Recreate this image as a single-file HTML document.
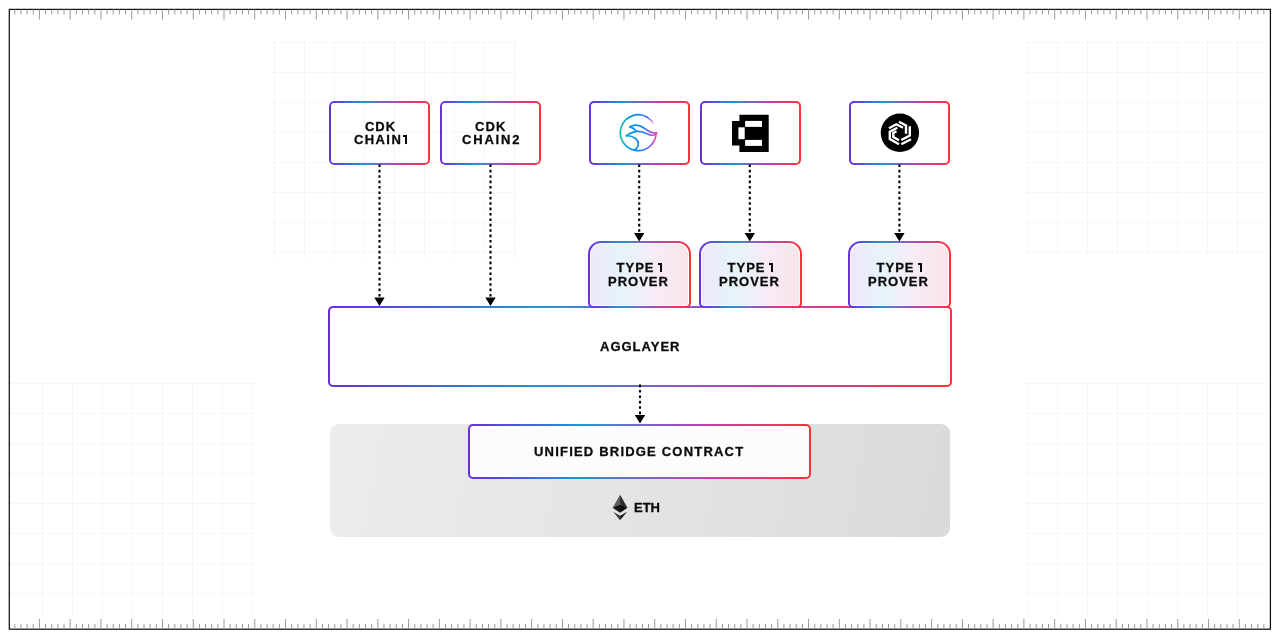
<!DOCTYPE html>
<html><head><meta charset="utf-8"><style>
*{box-sizing:border-box;margin:0;padding:0}
html,body{width:1280px;height:639px;overflow:hidden;background:#fff}
body{position:relative;font-family:"Liberation Sans",sans-serif;font-weight:700;color:#0a0a0a;-webkit-font-smoothing:antialiased}
.t{will-change:transform;-webkit-text-stroke:0.3px #0a0a0a}
.gb{position:absolute;border:2px solid transparent;border-radius:5px;
background:linear-gradient(#fff,#fff) padding-box,linear-gradient(90deg,#6a2ce0 0%,#2196d0 33%,#8a5cc8 55%,#c040a8 71%,#e03c70 85%,#ff3038 100%) border-box;
display:flex;align-items:center;justify-content:center;text-align:center;font-size:13px;line-height:13px;letter-spacing:1px}
.pv{border-radius:13px 13px 5px 5px;background:linear-gradient(#fff,#fff) padding-box,linear-gradient(90deg,#6a2ce0 0%,#2196d0 33%,#8a5cc8 55%,#c040a8 71%,#e03c70 85%,#ff3038 100%) border-box}
.pv::before{content:"";position:absolute;inset:1px;border-radius:10px 10px 2px 2px;background:linear-gradient(90deg,rgba(106,44,224,.11) 0%,rgba(33,150,208,.11) 33%,rgba(192,64,168,.11) 70%,rgba(200,40,70,.12) 100%)}
.pv span{position:relative;line-height:14px;left:-1px}
.one{display:inline-block;width:4.2px;height:9.3px;position:relative;margin-left:0.6px;font-size:0;color:transparent;-webkit-text-stroke:0;vertical-align:baseline;font-style:normal}
.one::before{content:"";position:absolute;right:0;top:0;width:2.2px;height:100%;background:#0a0a0a}
.one::after{content:"";position:absolute;left:0;top:0;width:3px;height:2.1px;background:#0a0a0a}
.w{word-spacing:-1.5px;position:relative;left:1px}
svg{position:absolute;left:0;top:0}
.tb{background:none!important;border-color:transparent}
.tb::after{content:"";position:absolute;inset:-2px;border-radius:5px;padding:2px;background:linear-gradient(90deg,#6a2ce0 0%,#2196d0 33%,#8a5cc8 55%,#c040a8 71%,#e03c70 85%,#ff3038 100%);
-webkit-mask:linear-gradient(#000 0 0) content-box,linear-gradient(#000 0 0);-webkit-mask-composite:xor;mask-composite:exclude}
</style></head><body>
<svg width="1280" height="639" style="z-index:0">
<path d="M274.5 40V258 M304.5 40V258 M334.5 40V258 M364.5 40V258 M394.5 40V258 M424.5 40V258 M454.5 40V258 M484.5 40V258 M514.5 40V258 M272 42.5H517 M272 72.5H517 M272 102.5H517 M272 132.5H517 M272 162.5H517 M272 192.5H517 M272 222.5H517 M272 252.5H517 M1027.5 40V255 M1057.5 40V255 M1087.5 40V255 M1117.5 40V255 M1147.5 40V255 M1177.5 40V255 M1207.5 40V255 M1237.5 40V255 M1025 42.5H1268 M1025 72.5H1268 M1025 102.5H1268 M1025 132.5H1268 M1025 162.5H1268 M1025 192.5H1268 M1025 222.5H1268 M1025 252.5H1268 M42.5 381V617 M72.5 381V617 M102.5 381V617 M132.5 381V617 M162.5 381V617 M192.5 381V617 M222.5 381V617 M252.5 381V617 M10 383.5H256 M10 413.5H256 M10 443.5H256 M10 473.5H256 M10 503.5H256 M10 533.5H256 M10 563.5H256 M10 593.5H256 M1027.5 382V617 M1057.5 382V617 M1087.5 382V617 M1117.5 382V617 M1147.5 382V617 M1177.5 382V617 M1207.5 382V617 M1237.5 382V617 M1025 383.5H1268 M1025 413.5H1268 M1025 443.5H1268 M1025 473.5H1268 M1025 503.5H1268 M1025 533.5H1268 M1025 563.5H1268 M1025 593.5H1268" stroke="#f6f6f8" stroke-width="1" fill="none"/>
<rect x="9.3" y="9.4" width="1261.1" height="619.8" fill="none" stroke="#111" stroke-width="1.25"/>
<path d="M14.80 9.5v5 M20.96 9.5v5 M27.11 9.5v5 M33.26 9.5v5 M39.41 9.5v10 M45.57 9.5v5 M51.72 9.5v5 M57.87 9.5v5 M64.03 9.5v5 M70.18 9.5v10 M76.33 9.5v5 M82.49 9.5v5 M88.64 9.5v5 M94.79 9.5v5 M100.94 9.5v10 M107.10 9.5v5 M113.25 9.5v5 M119.40 9.5v5 M125.56 9.5v5 M131.71 9.5v10 M137.86 9.5v5 M144.02 9.5v5 M150.17 9.5v5 M156.32 9.5v5 M162.47 9.5v10 M168.63 9.5v5 M174.78 9.5v5 M180.93 9.5v5 M187.09 9.5v5 M193.24 9.5v10 M199.39 9.5v5 M205.55 9.5v5 M211.70 9.5v5 M217.85 9.5v5 M224.00 9.5v10 M230.16 9.5v5 M236.31 9.5v5 M242.46 9.5v5 M248.62 9.5v5 M254.77 9.5v10 M260.92 9.5v5 M267.08 9.5v5 M273.23 9.5v5 M279.38 9.5v5 M285.53 9.5v10 M291.69 9.5v5 M297.84 9.5v5 M303.99 9.5v5 M310.15 9.5v5 M316.30 9.5v10 M322.45 9.5v5 M328.61 9.5v5 M334.76 9.5v5 M340.91 9.5v5 M347.06 9.5v10 M353.22 9.5v5 M359.37 9.5v5 M365.52 9.5v5 M371.68 9.5v5 M377.83 9.5v10 M383.98 9.5v5 M390.14 9.5v5 M396.29 9.5v5 M402.44 9.5v5 M408.59 9.5v10 M414.75 9.5v5 M420.90 9.5v5 M427.05 9.5v5 M433.21 9.5v5 M439.36 9.5v10 M445.51 9.5v5 M451.67 9.5v5 M457.82 9.5v5 M463.97 9.5v5 M470.12 9.5v10 M476.28 9.5v5 M482.43 9.5v5 M488.58 9.5v5 M494.74 9.5v5 M500.89 9.5v10 M507.04 9.5v5 M513.20 9.5v5 M519.35 9.5v5 M525.50 9.5v5 M531.65 9.5v10 M537.81 9.5v5 M543.96 9.5v5 M550.11 9.5v5 M556.27 9.5v5 M562.42 9.5v10 M568.57 9.5v5 M574.73 9.5v5 M580.88 9.5v5 M587.03 9.5v5 M593.18 9.5v10 M599.34 9.5v5 M605.49 9.5v5 M611.64 9.5v5 M617.80 9.5v5 M623.95 9.5v10 M630.10 9.5v5 M636.26 9.5v5 M642.41 9.5v5 M648.56 9.5v5 M654.71 9.5v10 M660.87 9.5v5 M667.02 9.5v5 M673.17 9.5v5 M679.33 9.5v5 M685.48 9.5v10 M691.63 9.5v5 M697.79 9.5v5 M703.94 9.5v5 M710.09 9.5v5 M716.24 9.5v10 M722.40 9.5v5 M728.55 9.5v5 M734.70 9.5v5 M740.86 9.5v5 M747.01 9.5v10 M753.16 9.5v5 M759.32 9.5v5 M765.47 9.5v5 M771.62 9.5v5 M777.77 9.5v10 M783.93 9.5v5 M790.08 9.5v5 M796.23 9.5v5 M802.39 9.5v5 M808.54 9.5v10 M814.69 9.5v5 M820.85 9.5v5 M827.00 9.5v5 M833.15 9.5v5 M839.30 9.5v10 M845.46 9.5v5 M851.61 9.5v5 M857.76 9.5v5 M863.92 9.5v5 M870.07 9.5v10 M876.22 9.5v5 M882.38 9.5v5 M888.53 9.5v5 M894.68 9.5v5 M900.83 9.5v10 M906.99 9.5v5 M913.14 9.5v5 M919.29 9.5v5 M925.45 9.5v5 M931.60 9.5v10 M937.75 9.5v5 M943.91 9.5v5 M950.06 9.5v5 M956.21 9.5v5 M962.36 9.5v10 M968.52 9.5v5 M974.67 9.5v5 M980.82 9.5v5 M986.98 9.5v5 M993.13 9.5v10 M999.28 9.5v5 M1005.44 9.5v5 M1011.59 9.5v5 M1017.74 9.5v5 M1023.89 9.5v10 M1030.05 9.5v5 M1036.20 9.5v5 M1042.35 9.5v5 M1048.51 9.5v5 M1054.66 9.5v10 M1060.81 9.5v5 M1066.97 9.5v5 M1073.12 9.5v5 M1079.27 9.5v5 M1085.42 9.5v10 M1091.58 9.5v5 M1097.73 9.5v5 M1103.88 9.5v5 M1110.04 9.5v5 M1116.19 9.5v10 M1122.34 9.5v5 M1128.50 9.5v5 M1134.65 9.5v5 M1140.80 9.5v5 M1146.95 9.5v10 M1153.11 9.5v5 M1159.26 9.5v5 M1165.41 9.5v5 M1171.57 9.5v5 M1177.72 9.5v10 M1183.87 9.5v5 M1190.03 9.5v5 M1196.18 9.5v5 M1202.33 9.5v5 M1208.48 9.5v10 M1214.64 9.5v5 M1220.79 9.5v5 M1226.94 9.5v5 M1233.10 9.5v5 M1239.25 9.5v10 M1245.40 9.5v5 M1251.56 9.5v5 M1257.71 9.5v5 M1263.86 9.5v5 M14.80 629v-5 M20.96 629v-5 M27.11 629v-5 M33.26 629v-5 M39.41 629v-10 M45.57 629v-5 M51.72 629v-5 M57.87 629v-5 M64.03 629v-5 M70.18 629v-10 M76.33 629v-5 M82.49 629v-5 M88.64 629v-5 M94.79 629v-5 M100.94 629v-10 M107.10 629v-5 M113.25 629v-5 M119.40 629v-5 M125.56 629v-5 M131.71 629v-10 M137.86 629v-5 M144.02 629v-5 M150.17 629v-5 M156.32 629v-5 M162.47 629v-10 M168.63 629v-5 M174.78 629v-5 M180.93 629v-5 M187.09 629v-5 M193.24 629v-10 M199.39 629v-5 M205.55 629v-5 M211.70 629v-5 M217.85 629v-5 M224.00 629v-10 M230.16 629v-5 M236.31 629v-5 M242.46 629v-5 M248.62 629v-5 M254.77 629v-10 M260.92 629v-5 M267.08 629v-5 M273.23 629v-5 M279.38 629v-5 M285.53 629v-10 M291.69 629v-5 M297.84 629v-5 M303.99 629v-5 M310.15 629v-5 M316.30 629v-10 M322.45 629v-5 M328.61 629v-5 M334.76 629v-5 M340.91 629v-5 M347.06 629v-10 M353.22 629v-5 M359.37 629v-5 M365.52 629v-5 M371.68 629v-5 M377.83 629v-10 M383.98 629v-5 M390.14 629v-5 M396.29 629v-5 M402.44 629v-5 M408.59 629v-10 M414.75 629v-5 M420.90 629v-5 M427.05 629v-5 M433.21 629v-5 M439.36 629v-10 M445.51 629v-5 M451.67 629v-5 M457.82 629v-5 M463.97 629v-5 M470.12 629v-10 M476.28 629v-5 M482.43 629v-5 M488.58 629v-5 M494.74 629v-5 M500.89 629v-10 M507.04 629v-5 M513.20 629v-5 M519.35 629v-5 M525.50 629v-5 M531.65 629v-10 M537.81 629v-5 M543.96 629v-5 M550.11 629v-5 M556.27 629v-5 M562.42 629v-10 M568.57 629v-5 M574.73 629v-5 M580.88 629v-5 M587.03 629v-5 M593.18 629v-10 M599.34 629v-5 M605.49 629v-5 M611.64 629v-5 M617.80 629v-5 M623.95 629v-10 M630.10 629v-5 M636.26 629v-5 M642.41 629v-5 M648.56 629v-5 M654.71 629v-10 M660.87 629v-5 M667.02 629v-5 M673.17 629v-5 M679.33 629v-5 M685.48 629v-10 M691.63 629v-5 M697.79 629v-5 M703.94 629v-5 M710.09 629v-5 M716.24 629v-10 M722.40 629v-5 M728.55 629v-5 M734.70 629v-5 M740.86 629v-5 M747.01 629v-10 M753.16 629v-5 M759.32 629v-5 M765.47 629v-5 M771.62 629v-5 M777.77 629v-10 M783.93 629v-5 M790.08 629v-5 M796.23 629v-5 M802.39 629v-5 M808.54 629v-10 M814.69 629v-5 M820.85 629v-5 M827.00 629v-5 M833.15 629v-5 M839.30 629v-10 M845.46 629v-5 M851.61 629v-5 M857.76 629v-5 M863.92 629v-5 M870.07 629v-10 M876.22 629v-5 M882.38 629v-5 M888.53 629v-5 M894.68 629v-5 M900.83 629v-10 M906.99 629v-5 M913.14 629v-5 M919.29 629v-5 M925.45 629v-5 M931.60 629v-10 M937.75 629v-5 M943.91 629v-5 M950.06 629v-5 M956.21 629v-5 M962.36 629v-10 M968.52 629v-5 M974.67 629v-5 M980.82 629v-5 M986.98 629v-5 M993.13 629v-10 M999.28 629v-5 M1005.44 629v-5 M1011.59 629v-5 M1017.74 629v-5 M1023.89 629v-10 M1030.05 629v-5 M1036.20 629v-5 M1042.35 629v-5 M1048.51 629v-5 M1054.66 629v-10 M1060.81 629v-5 M1066.97 629v-5 M1073.12 629v-5 M1079.27 629v-5 M1085.42 629v-10 M1091.58 629v-5 M1097.73 629v-5 M1103.88 629v-5 M1110.04 629v-5 M1116.19 629v-10 M1122.34 629v-5 M1128.50 629v-5 M1134.65 629v-5 M1140.80 629v-5 M1146.95 629v-10 M1153.11 629v-5 M1159.26 629v-5 M1165.41 629v-5 M1171.57 629v-5 M1177.72 629v-10 M1183.87 629v-5 M1190.03 629v-5 M1196.18 629v-5 M1202.33 629v-5 M1208.48 629v-10 M1214.64 629v-5 M1220.79 629v-5 M1226.94 629v-5 M1233.10 629v-5 M1239.25 629v-10 M1245.40 629v-5 M1251.56 629v-5 M1257.71 629v-5 M1263.86 629v-5" stroke="#9a9a9a" stroke-width="1" fill="none"/>
</svg>

<div style="position:absolute;left:330px;top:424px;width:620px;height:113px;border-radius:9px;background:linear-gradient(100deg,#ececec 0%,#e4e4e4 50%,#dadada 100%)"></div>

<div class="gb tb" style="left:329px;top:101px;width:101px;height:64px"><div class="t" style="position:relative;left:1px">CDK<br><span style="letter-spacing:1.4px">CHAIN<i class="one"></i></span></div></div>
<div class="gb tb" style="left:440px;top:101px;width:101px;height:64px"><div class="t">CDK<br><span style="letter-spacing:1.8px;margin-right:-1.8px">CHAIN2</span></div></div>
<div class="gb" style="left:589px;top:101px;width:101px;height:64px"></div>
<div class="gb" style="left:700px;top:101px;width:101px;height:64px"></div>
<div class="gb" style="left:849px;top:101px;width:101px;height:64px"></div>

<div class="gb" style="left:328px;top:306px;width:624px;height:81px"><span class="t">AGGLAYER</span></div>
<div class="gb pv" style="left:588px;top:241px;width:103px;height:67px"><span class="t"><b class="w">TYPE <i class="one"></i></b><br>PROVER</span></div>
<div class="gb pv" style="left:699px;top:241px;width:103px;height:67px"><span class="t"><b class="w">TYPE <i class="one"></i></b><br>PROVER</span></div>
<div class="gb pv" style="left:848px;top:241px;width:103px;height:67px"><span class="t"><b class="w">TYPE <i class="one"></i></b><br>PROVER</span></div>

<div class="gb" style="left:468px;top:424px;width:343px;height:55px;background:linear-gradient(#fcfcfc,#fcfcfc) padding-box,linear-gradient(90deg,#6a2ce0 0%,#2196d0 33%,#8a5cc8 55%,#c040a8 71%,#e03c70 85%,#ff3038 100%) border-box"><span class="t" style="letter-spacing:1.2px">UNIFIED BRIDGE CONTRACT</span></div>

<div class="t" style="position:absolute;left:634px;top:500px;font-size:13px;line-height:16px;letter-spacing:0">ETH</div>

<svg width="1280" height="639" style="z-index:5">
<line x1="379.5" y1="164.4" x2="379.5" y2="298.5" stroke="#000" stroke-width="2.1" stroke-dasharray="2.6 2.8"/><path d="M374.3 297.5H384.7L379.5 306Z" fill="#000"/><line x1="490.5" y1="164.4" x2="490.5" y2="298.5" stroke="#000" stroke-width="2.1" stroke-dasharray="2.6 2.8"/><path d="M485.3 297.5H495.7L490.5 306Z" fill="#000"/><line x1="639.2" y1="164.4" x2="639.2" y2="234.0" stroke="#000" stroke-width="2.1" stroke-dasharray="2.6 2.8"/><path d="M634.0 233.0H644.4000000000001L639.2 241.5Z" fill="#000"/><line x1="749.8" y1="164.4" x2="749.8" y2="234.0" stroke="#000" stroke-width="2.1" stroke-dasharray="2.6 2.8"/><path d="M744.5999999999999 233.0H755.0L749.8 241.5Z" fill="#000"/><line x1="899.4" y1="164.4" x2="899.4" y2="234.0" stroke="#000" stroke-width="2.1" stroke-dasharray="2.6 2.8"/><path d="M894.1999999999999 233.0H904.6L899.4 241.5Z" fill="#000"/><line x1="640" y1="384.6" x2="640" y2="416.0" stroke="#000" stroke-width="2.1" stroke-dasharray="2.6 2.8"/><path d="M634.8 415.0H645.2L640 423.5Z" fill="#000"/>
<!-- ETH logo -->
<g>
<path fill="#5c5c5c" d="M620.07 494.66L612.67 507.81L620.07 504.3Z"/>
<path fill="#2c2c2c" d="M620.07 494.66L627.47 507.81L620.07 504.3Z"/>
<path fill="#161616" d="M612.67 507.81L620.07 512.74L620.07 504.3Z"/>
<path fill="#0c0c0c" d="M627.47 507.81L620.07 512.74L620.07 504.3Z"/>
<path fill="#3c3c3c" d="M613.22 511.64L620.07 515.75L620.07 520.14Z"/>
<path fill="#1c1c1c" d="M627.19 511.64L620.07 515.75L620.07 520.14Z"/>
</g>
<!-- pixel C icon -->
<g fill="#000">
<path d="M739.4 114.8H768.7V151.9H739.4V145.6H732V121.1H739.4Z"/>
</g>
<g fill="#fff">
<rect x="745.1" y="120.9" width="16.9" height="6"/>
<rect x="738.4" y="127.3" width="6.3" height="11.9"/>
<rect x="745.1" y="139.9" width="16.9" height="6"/>
</g>
<!-- black circle icon -->
<circle cx="899.9" cy="132.8" r="19.2" fill="#000"/>
<g fill="none" stroke="#fff" stroke-width="2.4" stroke-linejoin="miter" stroke-linecap="butt">
<path d="M889.0 128.3L896.3 124.3L903.0 127.8"/>
<path d="M899.0 121.8L906.0 125.4V133.8"/>
<path d="M909.8 126.3V135.5L901.3 140.0"/>
<path d="M911.0 139.3L901.3 144.3"/>
<path d="M897.3 127.8L889.8 131.8V139.0L899.0 144.3"/>
<path d="M896.5 131.3L893.3 133.0V137.0L899.0 140.3"/>
</g>
<!-- bird icon -->
<defs>
<linearGradient id="bg" gradientUnits="userSpaceOnUse" x1="3" y1="0" x2="41" y2="0">
<stop offset="0" stop-color="#14bfa8"/>
<stop offset="0.25" stop-color="#0aa2e0"/>
<stop offset="0.45" stop-color="#0a8af5"/>
<stop offset="0.68" stop-color="#2a80f2"/>
<stop offset="0.85" stop-color="#a058d8"/>
<stop offset="1" stop-color="#f048b0"/>
</linearGradient>
<linearGradient id="bf" gradientUnits="userSpaceOnUse" x1="31" y1="6.2" x2="38.2" y2="13.4">
<stop offset="0" stop-color="#7a66ea"/>
<stop offset="0.6" stop-color="#b070e0" stop-opacity="0.75"/>
<stop offset="1" stop-color="#f0a0d8" stop-opacity="0.15"/>
</linearGradient>
</defs>
<g transform="translate(616 111)" fill="none" stroke="url(#bg)" stroke-width="1.7" stroke-linecap="round" stroke-linejoin="round">
<path d="M40.1 22.0 A17.9 17.9 0 1 1 31.15 6.2"/>
<path d="M31.15 6.2 A17.9 17.9 0 0 1 38.0 13.3" stroke="url(#bf)"/>
<path d="M13.8 15.8 C16 14.6 18 14 20 14.1 C23 14.2 25.5 15.2 28 17 C31 19.3 34 21.2 36.5 21.7 C38 22 39.5 22 40.6 22"/>
<path d="M13.8 15.8 C16.5 16.4 18.8 17.8 20.5 20.2"/>
<path d="M10.3 24.8 C13 22.8 16.5 21 20.5 20.4 C24 20 27.5 21 31 22.8 C33.5 24 36 24.6 38 24 C39.3 23.5 40.2 22.8 40.6 22"/>
<path d="M10.3 24.8 C13 24.6 16.5 25.3 19.2 27.2 C22 29.3 22.8 32.5 21.8 35.2 C21.2 36.8 20 37.9 18.8 38.7"/>
</g>
</svg>
</body></html>
